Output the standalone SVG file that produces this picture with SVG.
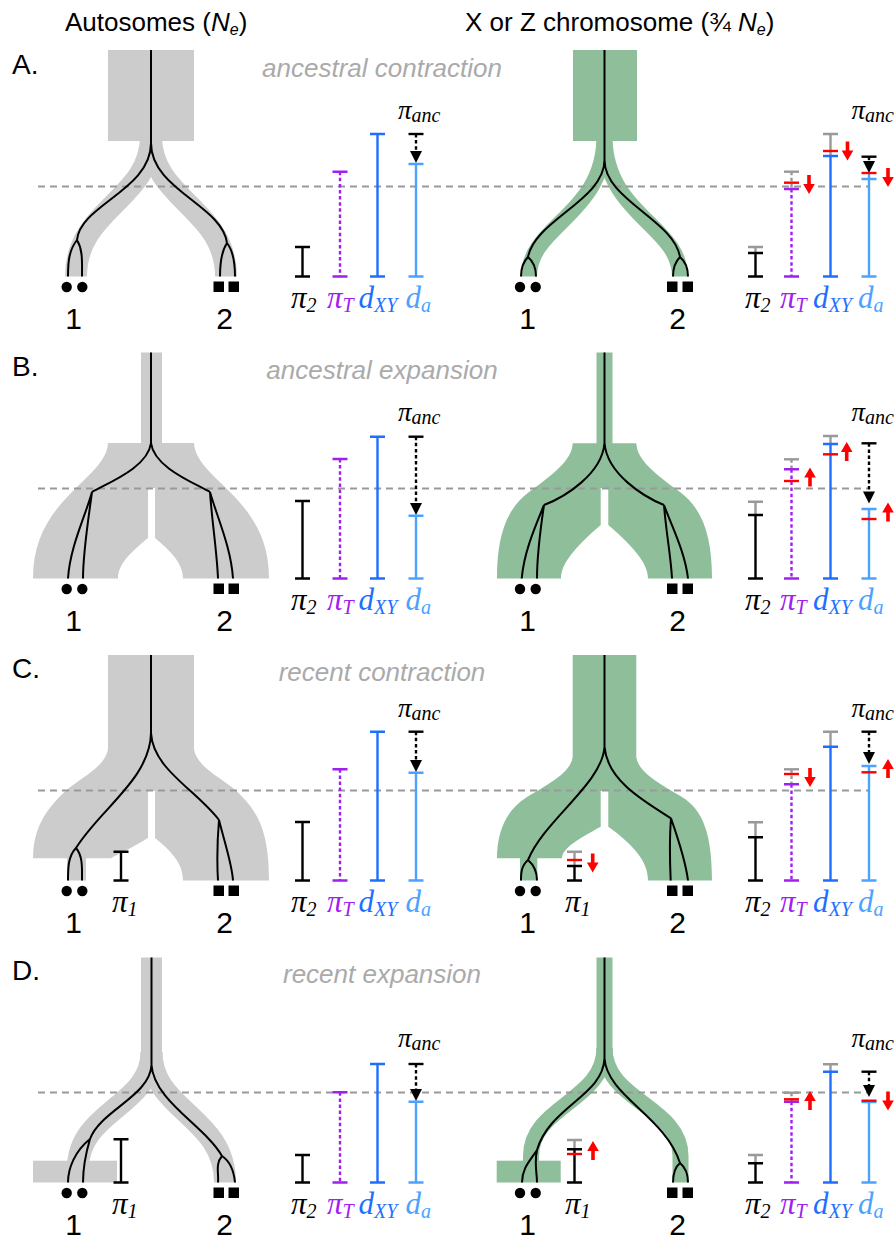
<svg xmlns="http://www.w3.org/2000/svg" width="894" height="1236" viewBox="0 0 894 1236">
<style>
.sans{font-family:"Liberation Sans",Arial,sans-serif}
.ser{font-family:"Liberation Serif","Times New Roman",serif;font-style:italic}
.ttl{font-size:26px;fill:#000}
.let{font-size:28px;fill:#000}
.sub{font-size:26px;font-style:italic;fill:#aaaaaa}
.num{font-size:30px;fill:#000}
.gt{fill:#cccccc}
.gn{fill:#8fbe9a}
.band{fill:none;stroke:#cccccc;stroke-width:22}
.bandg{fill:none;stroke:#8fbe9a;stroke-width:16}
.lin{fill:none;stroke:#000;stroke-width:2}
.hd{fill:none;stroke:#999;stroke-width:2;stroke-dasharray:7 5}
.bar{fill:none;stroke-width:2.4}
.k{stroke:#000}.g{stroke:#999}.p{stroke:#a020f0}.b{stroke:#1f6fff}.c{stroke:#4ba3ff}.r{stroke:#ff0000}
.dt{stroke-dasharray:3.5 2.6}
.lab{font-size:31px}
.ls{font-size:20px}
.anc{font-size:27px}
</style>
<defs>
<path id="rd" d="M-1.8,-19 H1.8 V-10 H5.8 L0,0 L-5.8,-10 H-1.8 Z" fill="#ff0000"/>
<path id="bah" d="M-6,-12 H6 L0,0 Z" fill="#000"/>
<g id="dots1"><circle cx="66.7" cy="287" r="5.2"/><circle cx="82.3" cy="287" r="5.2"/><rect x="213.5" y="281.5" width="10.5" height="10.5"/><rect x="228.5" y="281.5" width="10.5" height="10.5"/></g>
<g id="dots2"><circle cx="520" cy="287" r="5.2"/><circle cx="535.7" cy="287" r="5.2"/><rect x="667" y="281.5" width="10.5" height="10.5"/><rect x="682.5" y="281.5" width="10.5" height="10.5"/></g>
<g id="botlabels">
<text class="ser lab" x="291" y="307.5">π<tspan class="ls" dy="4">2</tspan></text>
<text class="ser lab" x="327" y="307.5" fill="#a020f0">π<tspan class="ls" dy="4">T</tspan></text>
<text class="ser lab" x="358.5" y="307.5" fill="#1f6fff">d<tspan class="ls" dy="4">XY</tspan></text>
<text class="ser lab" x="405.5" y="307.5" fill="#4ba3ff">d<tspan class="ls" dy="4">a</tspan></text>
<text class="ser lab" x="745" y="307.5">π<tspan class="ls" dy="4">2</tspan></text>
<text class="ser lab" x="780" y="307.5" fill="#a020f0">π<tspan class="ls" dy="4">T</tspan></text>
<text class="ser lab" x="813" y="307.5" fill="#1f6fff">d<tspan class="ls" dy="4">XY</tspan></text>
<text class="ser lab" x="858" y="307.5" fill="#4ba3ff">d<tspan class="ls" dy="4">a</tspan></text>
<text class="sans num" x="73.5" y="328.5" text-anchor="middle">1</text>
<text class="sans num" x="224.5" y="328.5" text-anchor="middle">2</text>
<text class="sans num" x="527.5" y="328.5" text-anchor="middle">1</text>
<text class="sans num" x="677.5" y="328.5" text-anchor="middle">2</text>
</g>
</defs>

<g id="headers">
<text class="sans ttl" x="65" y="31">Autosomes (<tspan font-style="italic">N</tspan><tspan font-size="16" dy="4" font-style="italic">e</tspan><tspan dy="-4">)</tspan></text>
<text class="sans ttl" x="465" y="31">X or Z chromosome (¾ <tspan font-style="italic">N</tspan><tspan font-size="16" dy="4" font-style="italic">e</tspan><tspan dy="-4">)</tspan></text>
</g>

<!-- PANEL A -->
<g id="panelA">
<text class="sans let" x="12" y="73.5">A.</text>
<text class="sans sub" x="382" y="76.5" text-anchor="middle">ancestral contraction</text>
<g id="A-auto-tree">
<rect class="gt" x="108" y="50" width="86" height="91"/>
<path class="band" d="M151,136 C151,200 76,208 76,276.5"/>
<path class="band" d="M151,136 C151,200 226,208 226,276.5"/>
</g>
<g id="A-x-tree">
<rect class="gn" x="573" y="50" width="64" height="91"/>
<path class="bandg" d="M604.5,136 C604.5,215 529,225 529,276.5"/>
<path class="bandg" d="M604.5,136 C604.5,215 680,225 680,276.5"/>
</g>
<line class="hd" x1="38" y1="186.5" x2="868" y2="186.5"/>
<g id="A-connectors">
<path class="lin" d="M151,50 V143 C151,190 80,205 77,240 M77,240 C69,250 68,262 68,276.5 M77,240 C83,250 82,262 82,276.5 M151,143 C151,190 222,205 227,243 M227,243 C221,252 220,264 220,276.5 M227,243 C234,252 235,264 235,276.5"/>
<path class="lin" d="M604.5,50 V160 C604.5,200 535,220 528,257 M528,257 C522,263 521,270 521,276.5 M528,257 C535,263 536,270 536,276.5 M604.5,160 C604.5,200 674,220 680,257 M680,257 C674,263 673,270 673,276.5 M680,257 C687,263 688,270 688,276.5"/>
</g>
<use href="#dots1"/><use href="#dots2"/>
<g id="A-auto-bars">
<path class="bar k" d="M295,247 H310 M302.5,247 V276.5 M295,276.5 H310"/>
<path class="bar p" d="M332.5,171.7 H347.5 M332.5,276.5 H347.5"/>
<path class="bar p dt" d="M340,171.7 V276.5"/>
<path class="bar b" d="M370,134 H385 M377.5,134 V276.5 M370,276.5 H385"/>
<path class="bar c" d="M408.5,164 H423.5 M416,164 V276.5 M408.5,276.5 H423.5"/>
<path class="bar k" d="M408.5,134 H423.5"/>
<path class="bar k dt" d="M416,134 V152"/>
<use href="#bah" x="416" y="163"/>
</g>
<g id="A-x-bars">
<path class="bar g" d="M748,247 H763 M755.5,247 V253"/>
<path class="bar k" d="M748,253 H763 M755.5,253 V276.5 M748,276.5 H763"/>
<path class="bar g" d="M784,171.7 H799"/>
<path class="bar g dt" d="M791.5,171.7 V189"/>
<path class="bar p dt" d="M791.5,189 V276.5"/>
<path class="bar p" d="M784,189 H799 M784,276.5 H799"/>
<path class="bar r" d="M784,182.7 H799"/>
<path class="bar g" d="M823,134 H838 M830.5,134 V156"/>
<path class="bar b" d="M823,156 H838 M830.5,156 V276.5 M823,276.5 H838"/>
<path class="bar r" d="M823,151 H838"/>
<path class="bar k" d="M861.5,156.7 H876.5"/>
<path class="bar k dt" d="M869,156.7 V162"/>
<path class="bar c" d="M861.5,179 H876.5 M869,173 V276.5 M861.5,276.5 H876.5"/>
<use href="#bah" x="869" y="173"/>
<path class="bar r" d="M861.5,173 H876.5"/>
<use href="#rd" transform="translate(809,194)"/>
<use href="#rd" transform="translate(847.5,160.5)"/>
<use href="#rd" transform="translate(888,187)"/>
</g>
<g id="A-labels">
<text class="ser anc" x="398" y="119">π<tspan class="ls" dy="3">anc</tspan></text>
<text class="ser anc" x="851.5" y="119">π<tspan class="ls" dy="3">anc</tspan></text>
<use href="#botlabels"/>
</g>
</g>

<!-- PANEL B -->
<g id="panelB" transform="translate(0,302)">
<text class="sans let" x="12" y="73.5">B.</text>
<text class="sans sub" x="382" y="76.5" text-anchor="middle">ancestral expansion</text>
<g id="B-auto-tree">
<rect class="gt" x="141" y="50.5" width="21" height="92"/>
<path class="gt" d="M108,141 H194 C195,158 210,170 230,190 C255,215 269,240 269,276.5 H183 C183,262 172,250 155,236 V186 H148 V236 C131,250 118,262 118,276.5 H33 C33,240 47,215 72,190 C92,170 107,158 108,141 Z"/>
</g>
<g id="B-x-tree">
<rect class="gn" x="596.5" y="50.5" width="16" height="92"/>
<path class="gn" d="M572.7,141.3 H636.3 C637,158 655,172 680,190 C703,207 712,235 712,276.5 H648 C648,262 635,246 608.3,223 V186 H600.7 V223 C574,246 561,262 561,276.5 H497 C497,235 506,207 529,190 C554,172 572,158 572.7,141.3 Z"/>
</g>
<line class="hd" x1="38" y1="186.5" x2="868" y2="186.5"/>
<g id="B-connectors">
<path class="lin" d="M151,50.5 V141 C148,165 110,180 92,190 M92,190 C85,215 70,245 68,276.5 M92,190 C88,220 83,250 83,276.5 M151,141 C154,165 192,180 210,190 M210,190 C212,220 217,250 218,276.5 M210,190 C217,215 231,245 233,276.5"/>
<path class="lin" d="M604.5,50.5 V141 C602,172 565,195 544,203 M544,203 C535,225 524,250 521.7,276.5 M544,203 C540,230 537,255 537,276.5 M604.5,141 C607,172 644,195 664,203 M664,203 C666,230 671,255 672,276.5 M664,203 C672,225 685,250 688,276.5"/>
</g>
<use href="#dots1"/><use href="#dots2"/>
<g id="B-auto-bars">
<path class="bar k" d="M295,199 H310 M302.5,199 V276.5 M295,276.5 H310"/>
<path class="bar p" d="M332.5,157 H347.5 M332.5,276.5 H347.5"/>
<path class="bar p dt" d="M340,157 V276.5"/>
<path class="bar b" d="M370,134.7 H385 M377.5,134.7 V276.5 M370,276.5 H385"/>
<path class="bar c" d="M408.5,213.7 H423.5 M416,213.7 V276.5 M408.5,276.5 H423.5"/>
<path class="bar k" d="M408.5,134.7 H423.5"/>
<path class="bar k dt" d="M416,134.7 V201"/>
<use href="#bah" x="416" y="213"/>
</g>
<g id="B-x-bars">
<path class="bar g" d="M748,199.7 H763 M755.5,199.7 V213"/>
<path class="bar k" d="M748,213 H763 M755.5,213 V276.5 M748,276.5 H763"/>
<path class="bar g" d="M784,157.3 H799"/>
<path class="bar g dt" d="M791.5,157.3 V167.3"/>
<path class="bar p dt" d="M791.5,167.3 V276.5"/>
<path class="bar p" d="M784,167.3 H799 M784,276.5 H799"/>
<path class="bar r" d="M784,179 H799"/>
<path class="bar g" d="M823,134 H838 M830.5,134 V142"/>
<path class="bar b" d="M823,142 H838 M830.5,142 V276.5 M823,276.5 H838"/>
<path class="bar r" d="M823,152.3 H838"/>
<path class="bar k" d="M861.5,141.3 H876.5"/>
<path class="bar k dt" d="M869,141.3 V190"/>
<use href="#bah" x="869" y="201.5"/>
<path class="bar c" d="M861.5,207 H876.5 M869,207 V276.5 M861.5,276.5 H876.5"/>
<path class="bar r" d="M861.5,217 H876.5"/>
<use href="#rd" transform="translate(810,165.5) scale(1,-1)"/>
<use href="#rd" transform="translate(846.7,140) scale(1,-1)"/>
<use href="#rd" transform="translate(888,200.5) scale(1,-1)"/>
</g>
<g id="B-labels">
<text class="ser anc" x="398" y="119">π<tspan class="ls" dy="3">anc</tspan></text>
<text class="ser anc" x="851.5" y="119">π<tspan class="ls" dy="3">anc</tspan></text>
<use href="#botlabels"/>
</g>
</g>

<!-- PANEL C -->
<g id="panelC" transform="translate(0,604)">
<text class="sans let" x="12" y="73.5">C.</text>
<text class="sans sub" x="382" y="76.5" text-anchor="middle">recent contraction</text>
<g id="C-auto-tree">
<path class="gt" d="M108,51 H194 V145 C196,160 214,170 233,184 C257,205 269,225 269,276.5 H183 C183,262 175,250 155,234 V187 H148 V234 C132,244 118,250 111,254.3 H86 V276.5 H67 V254.3 H33 C33,225 45,205 69,184 C88,170 106,160 108,145 Z"/>
</g>
<g id="C-x-tree">
<path class="gn" d="M572.7,51 H636.3 V153 C638,168 660,180 682,193 C703,206 712,230 712,276.5 H648 C648,258 635,242 608.3,222.7 V187 H600.7 V222.7 C580,234 562,244 562,254.3 H537.3 V276.5 H520 V254.3 H497 C497,228 506,206 527,193 C549,180 571,168 572.7,153 Z"/>
</g>
<line class="hd" x1="38" y1="186.5" x2="868" y2="186.5"/>
<g id="C-connectors">
<path class="lin" d="M151,51 V129 C150,175 100,205 76,244 M76,244 C68,252 68,265 68,276.5 M76,244 C83,252 82,265 82,276.5 M151,129 C153,165 195,185 219,216 M219,216 C217,240 217,260 218,276.5 M219,216 C225,240 232,260 233,276.5"/>
<path class="lin" d="M604.5,51 V142.7 C602,180 545,215 528,256 M528,256 C521,262 521,270 521,276.5 M528,256 C535,262 537,270 537,276.5 M604.5,142.7 C607,175 640,195 671,214.3 M671,214.3 C669,240 670,260 670.7,276.5 M671,214.3 C680,240 686,260 688,276.5"/>
</g>
<use href="#dots1"/><use href="#dots2"/>
<g id="C-auto-bars">
<path class="bar k" d="M113.5,247.7 H128.5 M121,247.7 V276.5 M113.5,276.5 H128.5"/>
<path class="bar k" d="M295,218 H310 M302.5,218 V276.5 M295,276.5 H310"/>
<path class="bar p" d="M332.5,165.3 H347.5 M332.5,276.5 H347.5"/>
<path class="bar p dt" d="M340,165.3 V276.5"/>
<path class="bar b" d="M370,127.7 H385 M377.5,127.7 V276.5 M370,276.5 H385"/>
<path class="bar c" d="M408.5,168.7 H423.5 M416,168.7 V276.5 M408.5,276.5 H423.5"/>
<path class="bar k" d="M408.5,127.7 H423.5"/>
<path class="bar k dt" d="M416,127.7 V156"/>
<use href="#bah" x="416" y="168"/>
</g>
<g id="C-x-bars">
<path class="bar g" d="M567,247.7 H582 M574.5,247.7 V262"/>
<path class="bar k" d="M567,262 H582 M574.5,262 V276.5 M567,276.5 H582"/>
<path class="bar r" d="M567,256 H582"/>
<use href="#rd" transform="translate(592.7,268.5)"/>
<path class="bar g" d="M748,218.3 H763 M755.5,218.3 V233.3"/>
<path class="bar k" d="M748,233.3 H763 M755.5,233.3 V276.5 M748,276.5 H763"/>
<path class="bar g" d="M784,165.3 H799"/>
<path class="bar g dt" d="M791.5,165.3 V180.3"/>
<path class="bar p dt" d="M791.5,180.3 V276.5"/>
<path class="bar p" d="M784,180.3 H799 M784,276.5 H799"/>
<path class="bar r" d="M784,170 H799"/>
<path class="bar g" d="M823,127.7 H838 M830.5,127.7 V142.7"/>
<path class="bar b" d="M823,142.7 H838 M830.5,142.7 V276.5 M823,276.5 H838"/>
<path class="bar k" d="M861.5,127.7 H876.5"/>
<path class="bar k dt" d="M869,127.7 V148"/>
<use href="#bah" x="869" y="160"/>
<path class="bar c" d="M861.5,162 H876.5 M869,162 V276.5 M861.5,276.5 H876.5"/>
<path class="bar r" d="M861.5,168.3 H876.5"/>
<use href="#rd" transform="translate(810,183)"/>
<use href="#rd" transform="translate(888,155) scale(1,-1)"/>
</g>
<g id="C-labels">
<text class="ser anc" x="398" y="113">π<tspan class="ls" dy="3">anc</tspan></text>
<text class="ser anc" x="851.5" y="113">π<tspan class="ls" dy="3">anc</tspan></text>
<text class="ser lab" x="112" y="307.5">π<tspan class="ls" dy="4">1</tspan></text>
<text class="ser lab" x="565" y="307.5">π<tspan class="ls" dy="4">1</tspan></text>
<use href="#botlabels"/>
</g>
</g>

<!-- PANEL D -->
<g id="panelD" transform="translate(0,906)">
<text class="sans let" x="12" y="73.5">D.</text>
<text class="sans sub" x="382" y="76.5" text-anchor="middle">recent expansion</text>
<g id="D-auto-tree">
<rect class="gt" x="141" y="51.5" width="21" height="100"/>
<path class="band" d="M151.5,146 C151.5,200 78,205 78,262"/>
<path class="band" d="M151.5,146 C151.5,205 225,210 225,276.5"/>
<rect class="gt" x="33" y="254.7" width="84" height="21.8"/>
</g>
<g id="D-x-tree">
<rect class="gn" x="596.5" y="51.5" width="16" height="95"/>
<path class="bandg" d="M604.5,142 C604.5,195 531,200 531,250 V262"/>
<path class="bandg" d="M604.5,142 C604.5,195 680.5,200 680.5,250 V276.5"/>
<rect class="gn" x="496.7" y="254.7" width="64" height="21.8"/>
</g>
<line class="hd" x1="38" y1="186.5" x2="868" y2="186.5"/>
<g id="D-connectors">
<path class="lin" d="M151.5,51.5 V159 C150,190 100,205 90,233 M90,233 C75,245 68,262 68,276.5 M90,233 C85,250 83,262 83,276.5 M151.5,159 C154,195 205,220 222,250 M222,250 C215,258 219,268 218,276.5 M222,250 C231,256 234,266 235,276.5"/>
<path class="lin" d="M604.5,51.5 V152.3 C603,190 550,200 537,244 M537,244 C530,255 522,262 522,276.5 M537,244 C534,258 537,266 537,276.5 M604.5,152.3 C607,190 665,210 680,257 M680,257 C674,262 673,270 673,276.5 M680,257 C686,262 688,270 688,276.5"/>
</g>
<use href="#dots1"/><use href="#dots2"/>
<g id="D-auto-bars">
<path class="bar k" d="M113.5,233.3 H128.5 M121,233.3 V276.5 M113.5,276.5 H128.5"/>
<path class="bar k" d="M295,249 H310 M302.5,249 V276.5 M295,276.5 H310"/>
<path class="bar p" d="M332.5,186.3 H347.5 M332.5,276.5 H347.5"/>
<path class="bar p dt" d="M340,186.3 V276.5"/>
<path class="bar b" d="M370,158 H385 M377.5,158 V276.5 M370,276.5 H385"/>
<path class="bar c" d="M408.5,195.7 H423.5 M416,195.7 V276.5 M408.5,276.5 H423.5"/>
<path class="bar k" d="M408.5,158 H423.5"/>
<path class="bar k dt" d="M416,158 V183"/>
<use href="#bah" x="416" y="195"/>
</g>
<g id="D-x-bars">
<path class="bar g" d="M567,234 H582 M574.5,234 V243.3"/>
<path class="bar k" d="M567,243.3 H582 M574.5,243.3 V276.5 M567,276.5 H582"/>
<path class="bar r" d="M567,248 H582"/>
<use href="#rd" transform="translate(593,235) scale(1,-1)"/>
<path class="bar g" d="M748,249 H763 M755.5,249 V257.3"/>
<path class="bar k" d="M748,257.3 H763 M755.5,257.3 V276.5 M748,276.5 H763"/>
<path class="bar g" d="M784,186.7 H799"/>
<path class="bar g dt" d="M791.5,186.7 V195.7"/>
<path class="bar p dt" d="M791.5,195.7 V276.5"/>
<path class="bar p" d="M784,195.7 H799 M784,276.5 H799"/>
<path class="bar r" d="M784,193.3 H799"/>
<path class="bar g" d="M823,158.3 H838 M830.5,158.3 V165.7"/>
<path class="bar b" d="M823,165.7 H838 M830.5,165.7 V276.5 M823,276.5 H838"/>
<path class="bar k" d="M861.5,165.7 H876.5"/>
<path class="bar k dt" d="M869,165.7 V179"/>
<use href="#bah" x="869" y="191"/>
<path class="bar c" d="M861.5,196 H876.5 M869,194.7 V276.5 M861.5,276.5 H876.5"/>
<path class="bar r" d="M861.5,194.7 H876.5"/>
<use href="#rd" transform="translate(810,185) scale(1,-1)"/>
<use href="#rd" transform="translate(888,204.5)"/>
</g>
<g id="D-labels">
<text class="ser anc" x="398" y="141">π<tspan class="ls" dy="3">anc</tspan></text>
<text class="ser anc" x="851.5" y="141">π<tspan class="ls" dy="3">anc</tspan></text>
<text class="ser lab" x="112" y="307.5">π<tspan class="ls" dy="4">1</tspan></text>
<text class="ser lab" x="565" y="307.5">π<tspan class="ls" dy="4">1</tspan></text>
<use href="#botlabels"/>
</g>
</g>
</svg>
